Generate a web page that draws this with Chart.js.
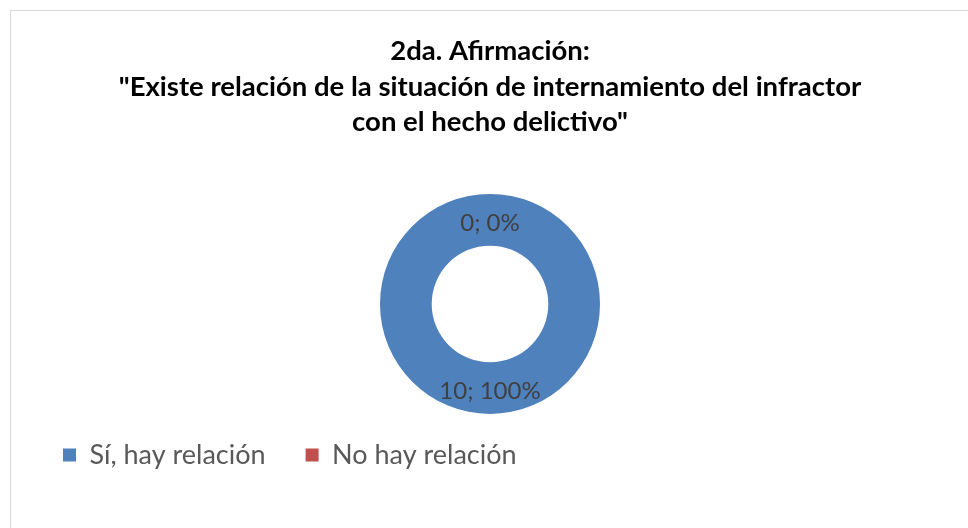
<!DOCTYPE html>
<html>
<head>
<meta charset="utf-8">
<script src="https://cdn.jsdelivr.net/npm/chart.js@4"></script>
<style>
    body { margin: 0; background: #fff; overflow: hidden; }
    #wrap { position: absolute; left: 10px; top: 10px; width: 970px; height: 530px; border: 1px solid #d9d9d9; }
    canvas { display: block; }
</style>
</head>
<body>
<div id="wrap"><canvas id="myChart" width="958" height="517"></canvas></div>
<script>
// datos del gráfico
const categorias = ['Sí, hay relación', 'No hay relación'];
const valores = [10, 0];
const colores = ['#4F81BD', '#C0504D'];
const titulo = [
    '2da. Afirmación:',
    '"Existe relación de la situación de internamiento del infractor',
    'con el hecho delictivo"'
];

document.addEventListener('DOMContentLoaded', () => {
    // etiquetas "valor; porcentaje" en el centro de cada sector
    const etiquetas = {
        id: 'etiquetas',
        afterDatasetsDraw(chart) {
            const ctx = chart.ctx;
            const meta = chart.getDatasetMeta(0);
            const total = valores.reduce((a, b) => a + b, 0);
            ctx.save();
            ctx.font = '24px Lato';
            ctx.fillStyle = '#404040';
            ctx.textAlign = 'center';
            ctx.textBaseline = 'alphabetic';
            meta.data.forEach((arc, i) => {
                const p = arc.getCenterPoint();
                const pct = Math.round(valores[i] / total * 100);
                ctx.fillText(valores[i] + '; ' + pct + '%', p.x, p.y + 11);
            });
            ctx.restore();
        }
    };

    var ctx = document.getElementById('myChart').getContext('2d');
    var myChart = new Chart(ctx, {
        type: 'doughnut',
        data: {
            labels: categorias,
            datasets: [{
                data: valores,
                backgroundColor: colores,
                borderWidth: 0,
                radius: 110,
                clip: false
            }]
        },
        options: {
            responsive: false,
            animation: false,
            cutout: '53%',
            layout: { padding: { left: 12, right: 12, top: 0, bottom: 49.5 } },
            plugins: {
                title: {
                    display: true,
                    text: titulo,
                    color: '#000',
                    font: { family: 'Lato', size: 27.5, weight: 'bold', lineHeight: 1.29 },
                    padding: { top: 22.5, bottom: 66.5 }
                },
                legend: {
                    position: 'bottom',
                    align: 'start',
                    labels: {
                        boxWidth: 13,
                        boxHeight: 13,
                        padding: 40,
                        color: '#595959',
                        font: { family: 'Lato', size: 27 }
                    }
                },
                tooltip: { enabled: false }
            }
        },
        plugins: [etiquetas]
    });
});
</script>
</body>
</html>
